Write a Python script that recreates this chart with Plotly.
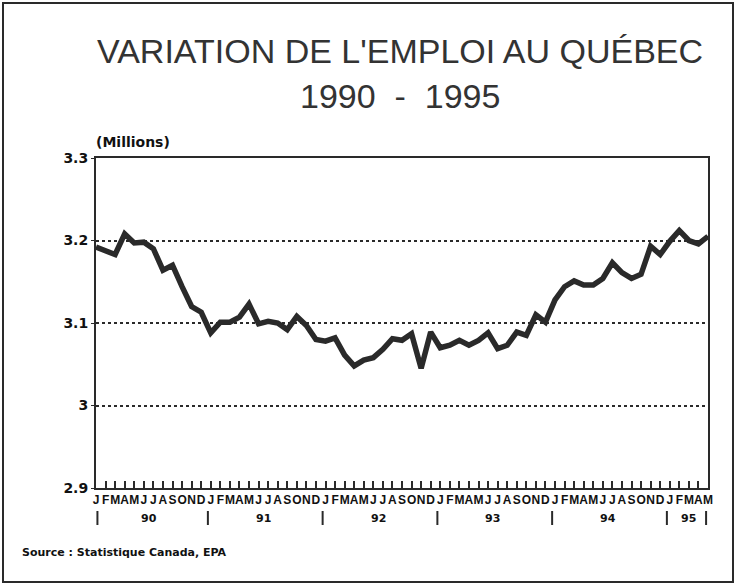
import plotly.graph_objects as go

# Monthly employment in Québec (millions), Jan 1990 - May 1995
month_letters = list("JFMAMJJASOND") * 5 + list("JFMAM")
employment = [
    3.192, 3.187, 3.183, 3.208, 3.197, 3.198, 3.190, 3.164, 3.170, 3.144, 3.120, 3.113,
    3.088, 3.101, 3.101, 3.107, 3.123, 3.099, 3.102, 3.100, 3.092, 3.108, 3.097, 3.080,
    3.078, 3.082, 3.061, 3.048, 3.055, 3.058, 3.068, 3.081, 3.079, 3.087, 3.045, 3.089,
    3.070, 3.073, 3.079, 3.073, 3.079, 3.088, 3.069, 3.073, 3.089, 3.085, 3.110, 3.101,
    3.128, 3.144, 3.151, 3.146, 3.146, 3.154, 3.173, 3.161, 3.154, 3.159, 3.193, 3.183,
    3.199, 3.212, 3.200, 3.196, 3.205,
]
year_labels = ["90", "91", "92", "93", "94", "95"]
y_tickvals = [2.9, 3.0, 3.1, 3.2, 3.3]
y_ticktext = ["2.9", "3", "3.1", "3.2", "3.3"]

months = list(range(len(employment)))
INK = "#2a2a2a"
BOLD = "DejaVu Sans"

fig = go.Figure()
fig.add_trace(go.Scatter(
    x=months, y=employment, mode="lines",
    line=dict(color=INK, width=5.5), hoverinfo="skip", showlegend=False,
))

W, H = 736, 587
ml, mr, mt, mb = 96, 28, 158, 99
pw, ph = W - ml - mr, H - mt - mb


def px(xpix):
    return (xpix - ml) / pw


def py(ypix):
    return (H - mb - ypix) / ph


annotations = [
    dict(text="VARIATION DE L'EMPLOI AU QUÉBEC", x=px(400), y=py(51), xref="paper", yref="paper",
         showarrow=False, xanchor="center", yanchor="middle",
         font=dict(family="Liberation Sans", size=34, color="#333")),
    dict(text="1990&nbsp; - &nbsp;1995", x=px(400), y=py(96), xref="paper", yref="paper",
         showarrow=False, xanchor="center", yanchor="middle",
         font=dict(family="Liberation Sans", size=34, color="#333")),
    dict(text="<b>(Millions)</b>", x=px(94), y=py(142), xref="paper", yref="paper",
         showarrow=False, xanchor="left", yanchor="middle",
         font=dict(family=BOLD, size=14, color="#111")),
    dict(text="<b>Source : Statistique Canada, EPA</b>", x=px(20), y=py(552), xref="paper", yref="paper",
         showarrow=False, xanchor="left", yanchor="middle",
         font=dict(family=BOLD, size=11, color="#111")),
]

shapes = []
for k, yl in enumerate(year_labels):
    start = 12 * k
    end = min(12 * k + 11, len(employment) - 1)
    annotations.append(dict(
        text="<b>%s</b>" % yl, x=(start + end) / 2, y=py(518), xref="x", yref="paper",
        showarrow=False, xanchor="center", yanchor="middle",
        font=dict(family=BOLD, size=11, color="#111")))
    sep = start - 0.3 if k > 0 else 0.15
    shapes.append(dict(type="line", xref="x", yref="paper", x0=sep, x1=sep,
                       y0=py(511), y1=py(525), line=dict(color=INK, width=2)))
shapes.append(dict(type="line", xref="x", yref="paper", x0=63.8, x1=63.8,
                   y0=py(511), y1=py(525), line=dict(color=INK, width=2)))

# outer page frame
shapes.append(dict(type="rect", xref="paper", yref="paper",
                   x0=px(3), x1=px(733), y0=py(582), y1=py(3),
                   line=dict(color=INK, width=2), fillcolor="rgba(0,0,0,0)", layer="below"))

fig.update_layout(
    width=W, height=H,
    margin=dict(l=ml, r=mr, t=mt, b=mb, pad=0),
    paper_bgcolor="white", plot_bgcolor="white",
    annotations=annotations, shapes=shapes,
    xaxis=dict(
        range=[0, len(employment) - 1], tickmode="array", tickvals=months,
        ticktext=["<b>%s</b>" % m for m in month_letters],
        ticks="inside", ticklen=7, tickwidth=1.5, tickcolor=INK,
        tickfont=dict(family="Liberation Sans Narrow, Liberation Sans", size=12, color="#111"),
        showline=True, linecolor=INK, linewidth=2, mirror=True,
        showgrid=False, zeroline=False, tickangle=0,
    ),
    yaxis=dict(
        range=[2.9, 3.3], tickmode="array", tickvals=y_tickvals,
        ticktext=["<b>%s</b>" % t for t in y_ticktext],
        ticks="outside", ticklen=3, tickcolor=INK,
        tickfont=dict(family=BOLD, size=14, color="#111"),
        showline=True, linecolor=INK, linewidth=2, mirror=True,
        showgrid=True, gridcolor=INK, gridwidth=1.5, griddash="dot",
        zeroline=False,
    ),
)

fig.write_html("out.html", config={"displayModeBar": False},
               post_script="document.body.style.margin='0';document.body.style.overflow='hidden';")
